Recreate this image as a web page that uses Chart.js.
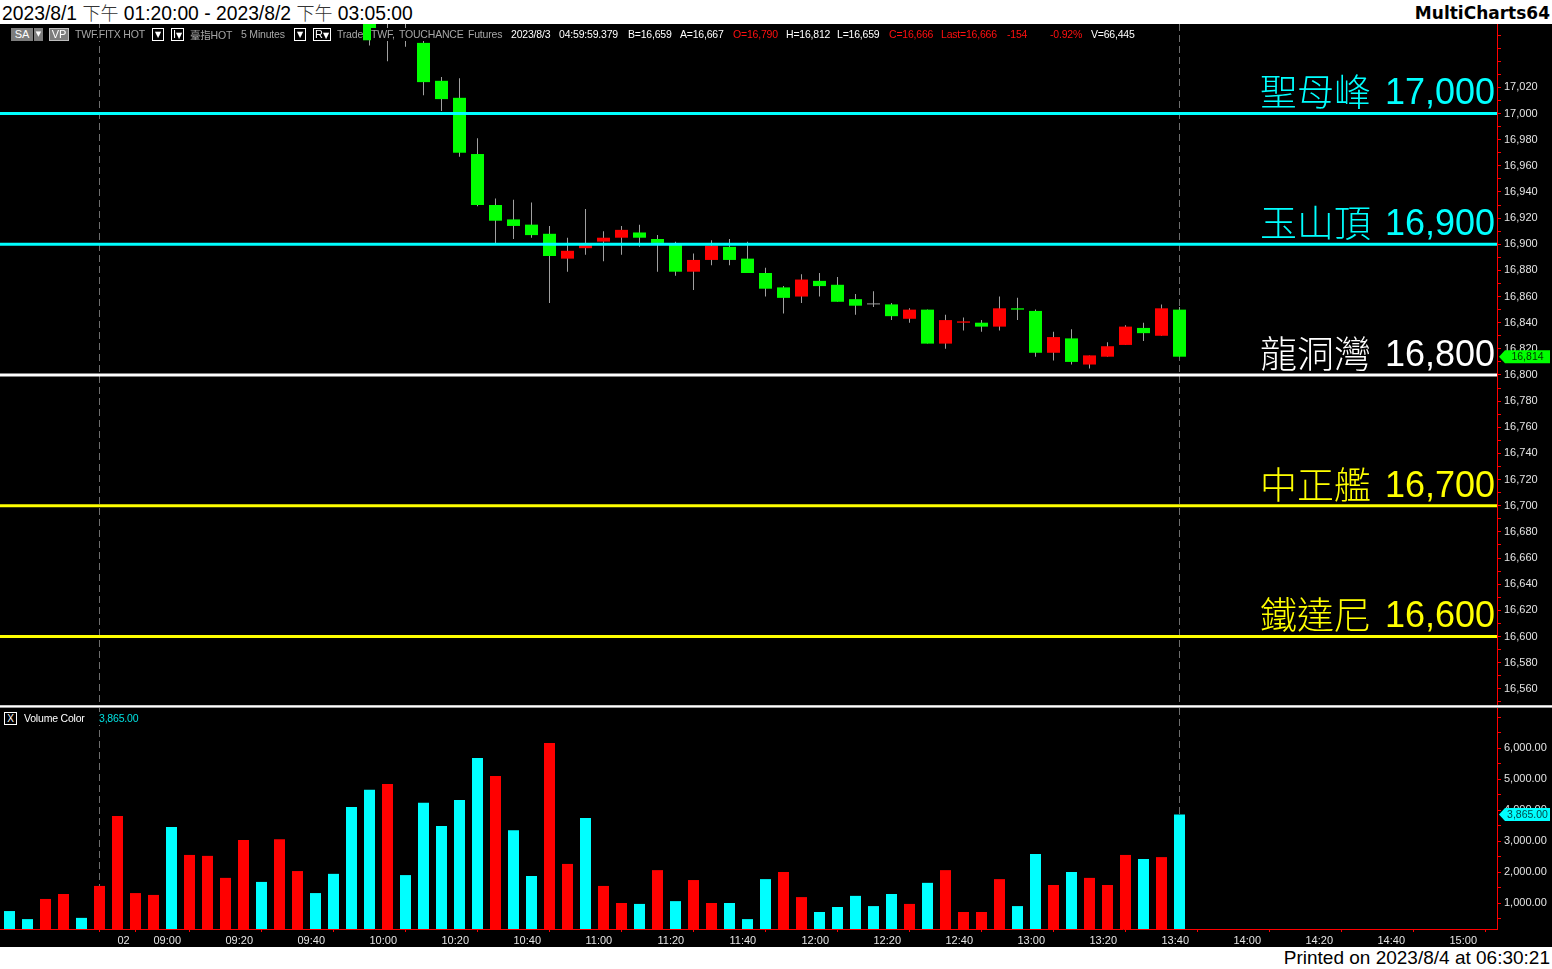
<!DOCTYPE html>
<html>
<head>
<meta charset="utf-8">
<title>TWF.FITX HOT 5 Minutes</title>
<script src="https://cdn.jsdelivr.net/npm/chart.js"></script>
<style>
  body { margin: 0; background: #fff; font-family: 'Liberation Sans', Arial, sans-serif; }
  #page { position: relative; width: 1552px; height: 969px; overflow: hidden; background: #fff; }
  #title { position: absolute; left: 2px; top: 0; font-size: 19.3px; line-height: 24px; color: #000; white-space: nowrap; }
  #title .cjk { font-family: 'Noto Sans CJK TC'; font-weight: 300; color: #333; font-size: 18px; }
  #brand { position: absolute; right: 2px; top: 1px; font: bold 17px 'DejaVu Sans'; line-height: 24px; color: #000; }
  #printed { position: absolute; right: 2px; top: 947px; font-size: 19px; line-height: 22px; color: #000; }
  #pane { position: absolute; left: 0; top: 24px; width: 1552px; height: 923px; background: #000; }
  #priceWrap { position: absolute; left: 0; top: 24px; }
  #volWrap { position: absolute; left: 0; top: 708px; }
  #sep { position: absolute; left: 0; top: 705px; width: 1552px; height: 3px;
         background: linear-gradient(#c8c8c8 0 1px, #ffffff 1px 2px, #9a9a9a 2px 3px); }
  .lg { position: absolute; top: 28px; font-size: 10.5px; letter-spacing: -0.2px; line-height: 13px; background: #000; white-space: nowrap; }
  .g { color: #a6a6a6; }
  .w { color: #ffffff; }
  .r { color: #ff1010; }
  .c { color: #00e0e0; }
  .btn { position: absolute; top: 28px; height: 13px; font-size: 11px; line-height: 13px; text-align: center;
         background: #7d7d7d; color: #fff; box-sizing: border-box; }
  .box { position: absolute; top: 28px; height: 13px; font-size: 8px; line-height: 11px; text-align: center;
         border: 1px solid #fff; color: #fff; background: #000; box-sizing: border-box; font-family: 'DejaVu Sans'; }
  .box b { font-family: 'Liberation Sans'; font-size: 11px; font-weight: normal; }
</style>
</head>
<body>
<div id="page">
  <div id="title">2023/8/1 <span class="cjk">下午</span> 01:20:00 - 2023/8/2 <span class="cjk">下午</span> 03:05:00</div>
  <div id="brand">MultiCharts64</div>
  <div id="pane"></div>
  <div id="priceWrap"><canvas id="priceChart" width="1552" height="681"></canvas></div>
  <div id="sep"></div>
  <div id="volWrap"><canvas id="volChart" width="1552" height="239"></canvas></div>

  <!-- price pane status line -->
  <div class="btn" style="left:11px;width:22px;">SA</div>
  <div class="btn" style="left:34px;width:9px;font-size:7px;font-family:'DejaVu Sans';">▼</div>
  <div class="btn" style="left:49px;width:20px;border:1px solid #bdbdbd;line-height:11px;">VP</div>
  <div class="lg g" style="left:75px;">TWF.FITX HOT</div>
  <div class="box" style="left:152px;width:12px;">▼</div>
  <div class="box" style="left:171px;width:13px;"><b>I</b>▼</div>
  <div class="lg g" style="left:190px;"><span style="font-family:'Noto Sans CJK TC';">臺指</span>HOT</div>
  <div class="lg g" style="left:241px;">5 Minutes</div>
  <div class="box" style="left:294px;width:12px;">▼</div>
  <div class="box" style="left:313px;width:18px;"><b>R</b>▼</div>
  <div class="lg g" style="left:337px;">Trade</div>
  <div class="lg g" style="left:371px;">TWF,</div>
  <div class="lg g" style="left:399px;">TOUCHANCE</div>
  <div class="lg g" style="left:468px;">Futures</div>
  <div class="lg w" style="left:511px;">2023/8/3</div>
  <div class="lg w" style="left:559px;">04:59:59.379</div>
  <div class="lg w" style="left:628px;">B=16,659</div>
  <div class="lg w" style="left:680px;">A=16,667</div>
  <div class="lg r" style="left:733px;">O=16,790</div>
  <div class="lg w" style="left:786px;">H=16,812</div>
  <div class="lg w" style="left:837px;">L=16,659</div>
  <div class="lg r" style="left:889px;">C=16,666</div>
  <div class="lg r" style="left:941px;">Last=16,666</div>
  <div class="lg r" style="left:1007px;">-154</div>
  <div class="lg r" style="left:1050px;">-0.92%</div>
  <div class="lg w" style="left:1091px;">V=66,445</div>

  <!-- volume pane status line -->
  <div class="box" style="left:4px;top:712px;width:13px;height:13px;font-size:10px;line-height:11px;font-family:'Liberation Sans';">X</div>
  <div class="lg w" style="left:24px;top:712px;">Volume Color</div>
  <div class="lg c" style="left:99px;top:712px;">3,865.00</div>

  <div id="printed">Printed on 2023/8/4 at 06:30:21</div>
</div>

<script>
  // 5-minute bars, index 0 = first bar on screen
  const firstCandleBar = 20;   // earlier candles sit above the visible price range
  const opens  = [17082, 17072, 17088, 17054, 17025, 17012, 16969, 16930, 16919, 16915,
                  16908, 16889, 16897, 16902, 16905, 16909, 16904, 16900, 16879, 16888,
                  16898, 16889, 16878, 16867, 16860, 16872, 16869, 16858, 16854, 16854,
                  16843, 16850, 16824, 16840, 16840, 16837, 16851, 16849, 16817, 16828,
                  16808, 16814, 16823, 16836, 16830, 16850];
  const highs  = [17088, 17090, 17095, 17058, 17028, 17027, 16981, 16935, 16934, 16932,
                  16914, 16905, 16927, 16910, 16914, 16915, 16907, 16902, 16893, 16903,
                  16904, 16902, 16882, 16868, 16877, 16878, 16875, 16862, 16864, 16855,
                  16851, 16850, 16846, 16844, 16842, 16860, 16859, 16850, 16833, 16835,
                  16815, 16825, 16838, 16840, 16854, 16852];
  const lows   = [17052, 17040, 17051, 17014, 17002, 16967, 16929, 16901, 16904, 16905,
                  16855, 16879, 16892, 16887, 16892, 16898, 16879, 16876, 16865, 16884,
                  16884, 16878, 16860, 16847, 16855, 16860, 16856, 16846, 16852, 16842,
                  16840, 16824, 16820, 16834, 16833, 16834, 16842, 16814, 16811, 16808,
                  16805, 16814, 16823, 16826, 16830, 16814];
  const closes = [17056, 17080, 17070, 17024, 17011, 16970, 16930, 16918, 16914, 16907,
                  16891, 16895, 16900, 16905, 16911, 16905, 16901, 16879, 16888, 16899,
                  16888, 16878, 16866, 16859, 16873, 16868, 16856, 16853, 16854, 16845,
                  16850, 16824, 16842, 16841, 16837, 16851, 16850, 16817, 16829, 16810,
                  16815, 16822, 16837, 16832, 16851, 16814];

  const volumes = [750, 490, 1140, 1300, 530, 1560, 3820, 1330, 1270, 3460,
                   2560, 2530, 1820, 3040, 1690, 3070, 2040, 1330, 1950, 4110,
                   4660, 4850, 1910, 4240, 3490, 4330, 5690, 5110, 3360, 1880,
                   6170, 2270, 3750, 1560, 1010, 980, 2070, 1070, 1750, 1010,
                   1010, 490, 1780, 2010, 1200, 720, 880, 1240, 910, 1300,
                   980, 1660, 2070, 720, 720, 1780, 910, 2590, 1590, 2010,
                   1820, 1590, 2560, 2430, 2490, 3865];
  // 1 = red (up volume), 0 = cyan
  const volumeUp = [0, 0, 1, 1, 0, 1, 1, 1, 1, 0,
                    1, 1, 1, 1, 0, 1, 1, 0, 0, 0,
                    0, 1, 0, 0, 0, 0, 0, 1, 0, 0,
                    1, 1, 0, 1, 1, 0, 1, 0, 1, 1,
                    0, 0, 0, 1, 1, 0, 0, 0, 0, 0,
                    1, 0, 1, 1, 1, 1, 0, 0, 1, 0,
                    1, 1, 1, 0, 1, 0];

  const levelValues = [17000, 16900, 16800, 16700, 16600];
  const levelNames  = ['聖母峰', '玉山頂', '龍洞灣', '中正艦', '鐵達尼'];
  const levelColors = ['#00ffff', '#00ffff', '#ffffff', '#ffff00', '#ffff00'];

  const xTickBars   = [6, 8, 12, 16, 20, 24, 28, 32, 36, 40, 44, 48, 52, 56, 60, 64, 68, 72, 76, 80];
  const xTickLabels = ['02', '09:00', '09:20', '09:40', '10:00', '10:20', '10:40', '11:00', '11:20', '11:40',
                       '12:00', '12:20', '12:40', '13:00', '13:20', '13:40', '14:00', '14:20', '14:40', '15:00'];
  const priceTickValues  = [16560, 16580, 16600, 16620, 16640, 16660, 16680, 16700, 16720, 16740, 16760,
                            16780, 16800, 16820, 16840, 16860, 16880, 16900, 16920, 16940, 16960, 16980,
                            17000, 17020];
  const volumeTickValues = [1000, 2000, 3000, 4000, 5000, 6000];
  const markerBars = [5, 65];   // dashed verticals

  const RED = '#ff0000', GREEN = '#00ff00', CYAN = '#00ffff', WICK = '#a0a0a0';
  const AXIS_W = 55;
  // one bar slot is 18px; first slot centre sits 9.5px from the left edge
  const xMin = -9.5 / 18, xMax = (1552 - AXIS_W - 9.5) / 18;

  const comma = v => String(v).replace(/\B(?=(\d{3})+(?!\d))/g, ',');

  Chart.defaults.font.family = "'Liberation Sans', Arial, sans-serif";
  Chart.defaults.font.size = 11;

  const dashedMarkers = {
    id: 'dashedMarkers',
    beforeDatasetsDraw(chart) {
      const { ctx, chartArea, scales: { x } } = chart;
      ctx.save();
      ctx.strokeStyle = '#6e6e6e';
      ctx.lineWidth = 1;
      ctx.setLineDash([7, 4]);
      markerBars.forEach(b => {
        const px = Math.round(x.getPixelForValue(b) - 0.5) + 0.5;
        ctx.beginPath();
        ctx.moveTo(px, chartArea.top);
        ctx.lineTo(px, chartArea.bottom);
        ctx.stroke();
      });
      ctx.restore();
    }
  };

  function drawTag(chart, value, text, bg, fg) {
    const { ctx, chartArea } = chart;
    const y = chart.scales.y.getPixelForValue(value);
    const x0 = chartArea.right + 2, x1 = chart.width - 2, h = 6.5;
    ctx.save();
    ctx.fillStyle = bg;
    ctx.beginPath();
    ctx.moveTo(x0, y);
    ctx.lineTo(x0 + 6, y - h);
    ctx.lineTo(x1, y - h);
    ctx.lineTo(x1, y + h);
    ctx.lineTo(x0 + 6, y + h);
    ctx.closePath();
    ctx.fill();
    ctx.fillStyle = fg;
    ctx.font = "10.5px 'Liberation Sans'";
    ctx.textAlign = 'center';
    ctx.textBaseline = 'middle';
    ctx.fillText(text, (x0 + 6 + x1) / 2, y + 0.5);
    ctx.restore();
  }

  const levelLabels = {
    id: 'levelLabels',
    afterDatasetsDraw(chart) {
      const { ctx, chartArea, scales: { y } } = chart;
      ctx.save();
      ctx.textAlign = 'right';
      ctx.textBaseline = 'alphabetic';
      levelValues.forEach((v, i) => {
        const base = y.getPixelForValue(v) - 9;
        const right = chartArea.right - 2;
        const num = comma(v);
        ctx.fillStyle = levelColors[i];
        ctx.font = "36px 'Liberation Sans'";
        ctx.fillText(num, right, base);
        const w = ctx.measureText(num).width;
        ctx.font = "300 37px 'Noto Sans CJK TC'";
        ctx.fillText(levelNames[i], right - w - 14, base + 2);
      });
      ctx.restore();
    },
    afterDraw(chart) {
      drawTag(chart, closes[closes.length - 1], comma(closes[closes.length - 1]), GREEN, '#003300');
    }
  };

  const volumeTag = {
    id: 'volumeTag',
    afterDraw(chart) {
      const last = volumes[volumes.length - 1];
      drawTag(chart, last, comma(last) + '.00', CYAN, '#004848');
    }
  };

  const candleBars = opens.map((_, i) => firstCandleBar + i);
  const candleColors = opens.map((o, i) => closes[i] > o ? RED : closes[i] < o ? GREEN : WICK);

  const levelDatasets = levelValues.map((v, i) => ({
    type: 'line',
    data: [{ x: xMin, y: v }, { x: xMax, y: v }],
    borderColor: levelColors[i],
    borderWidth: 3,
    pointRadius: 0,
    order: 0
  }));

  // right-hand value axis: a small red mark every `step`, text only on the listed values
  function rightAxis(min, max, step, labelled, fmt) {
    return {
      type: 'linear',
      position: 'right',
      min, max,
      border: { color: RED, width: 1 },
      grid: { drawOnChartArea: false, color: RED, tickLength: 4 },
      afterBuildTicks: s => {
        const marks = [];
        for (let v = Math.ceil(min / step) * step; v <= max; v += step) marks.push({ value: v });
        s.ticks = marks;
      },
      ticks: {
        autoSkip: false,
        display: true,
        padding: 3,
        color: '#e4e4e4',
        font: { size: 11 },
        callback: v => labelled.indexOf(Math.round(v)) >= 0 ? fmt(Math.round(v)) : ''
      },
      afterFit: s => {
        s.width = AXIS_W;
        s.paddingTop = 0; s.paddingBottom = 0; s.paddingLeft = 0; s.paddingRight = 0;
      }
    };
  }

  const common = {
    animation: false,
    responsive: false,
    events: [],
    layout: { padding: 0 },
    plugins: { legend: { display: false }, tooltip: { enabled: false } }
  };

  new Chart(document.getElementById('priceChart'), {
    type: 'bar',
    data: {
      datasets: [
        ...levelDatasets,
        {
          data: candleBars.map((b, i) => ({ x: b, y: [opens[i], closes[i]] })),
          backgroundColor: candleColors,
          barThickness: 13,
          minBarLength: 1,
          grouped: false,
          inflateAmount: 0,
          order: 1
        },
        {
          data: candleBars.map((b, i) => ({ x: b, y: [lows[i], highs[i]] })),
          backgroundColor: WICK,
          barThickness: 1,
          grouped: false,
          inflateAmount: 0,
          order: 2
        }
      ]
    },
    options: {
      ...common,
      scales: {
        x: { type: 'linear', display: false, min: xMin, max: xMax, offset: false },
        y: rightAxis(16547.61, 17068.45, 10, priceTickValues, comma)
      }
    },
    plugins: [dashedMarkers, levelLabels]
  });

  new Chart(document.getElementById('volChart'), {
    type: 'bar',
    data: {
      datasets: [{
        data: volumes.map((v, i) => ({ x: i, y: v })),
        backgroundColor: volumeUp.map(u => u ? RED : CYAN),
        barThickness: 11,
        grouped: false,
        inflateAmount: 0
      }]
    },
    options: {
      ...common,
      scales: {
        x: {
          type: 'linear',
          min: xMin, max: xMax,
          offset: false,
          border: { color: RED, width: 1 },
          grid: { drawOnChartArea: false, color: RED, tickLength: 3 },
          afterBuildTicks: s => { s.ticks = xTickBars.map(v => ({ value: v })); },
          ticks: {
            autoSkip: false,
            maxRotation: 0,
            align: 'start',
            padding: 2,
            color: '#e4e4e4',
            font: { size: 11 },
            callback: (v, i) => xTickLabels[i]
          },
          afterFit: s => {
            s.height = 18;
            s.paddingLeft = 0; s.paddingRight = 0; s.paddingTop = 0; s.paddingBottom = 0;
          }
        },
        y: rightAxis(171, 7300, 500, volumeTickValues, v => comma(v) + '.00')
      }
    },
    plugins: [dashedMarkers, volumeTag]
  });
</script>
</body>
</html>
